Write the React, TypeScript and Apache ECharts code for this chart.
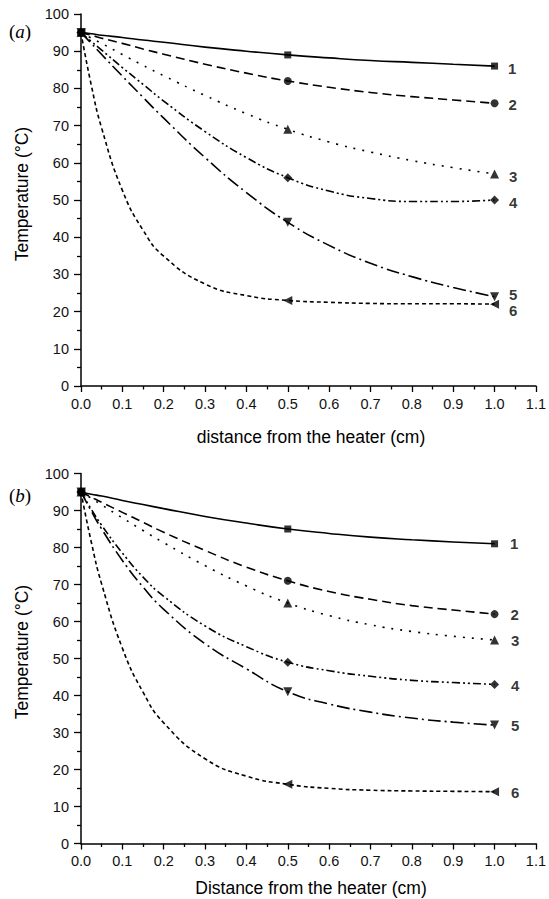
import React, { useEffect, useRef } from "react";
import * as echarts from "echarts";

const curveX = [0, 0.025, 0.05, 0.1, 0.15, 0.2, 0.3, 0.4, 0.5, 0.6, 0.7, 0.8, 0.9, 1.0];
// measured points (markers)
const markerX = [0, 0.5, 1.0];
const seriesNames = ["1", "2", "3", "4", "5", "6"];

// Panel (a) curves
const curveA1 = [95, 94.7, 94.3, 93.7, 93.0, 92.4, 91.1, 90.0, 89, 88.2, 87.5, 87.0, 86.5, 86];
const curveA2 = [95, 94.3, 93.5, 92.1, 90.6, 89.2, 86.5, 84.1, 82, 80.3, 78.9, 77.8, 76.9, 76];
const curveA3 = [95, 93.5, 92.1, 89.1, 86.2, 83.4, 78.1, 73.2, 69, 65.6, 62.9, 60.6, 58.7, 57];
const curveA4 = [95, 92.6, 90.3, 85.6, 81.1, 76.6, 68.4, 61.4, 56, 52.4, 50.4, 49.6, 49.6, 50];
const curveA5 = [95, 92.1, 89.1, 83.3, 77.6, 72.0, 61.4, 52.0, 44, 37.8, 33.0, 29.4, 26.5, 24];
const curveA6 = [95, 80.8, 69.3, 52.6, 41.9, 34.9, 27.4, 24.3, 23, 22.5, 22.2, 22.1, 22.1, 22];

// Panel (a) markers
const markA1 = [95, 89, 86];
const markA2 = [95, 82, 76];
const markA3 = [95, 69, 57];
const markA4 = [95, 56, 50];
const markA5 = [95, 44, 24];
const markA6 = [95, 23, 22];

// Panel (b) curves
const curveB1 = [95, 94.4, 93.9, 92.7, 91.6, 90.5, 88.4, 86.6, 85, 83.8, 82.8, 82.1, 81.5, 81];
const curveB2 = [95, 93.6, 92.2, 89.5, 86.8, 84.1, 79.2, 74.7, 71, 68.1, 66.0, 64.3, 63.1, 62];
const curveB3 = [95, 93.3, 91.5, 88.0, 84.6, 81.3, 75.1, 69.6, 65, 61.6, 59.1, 57.3, 56.0, 55];
const curveB4 = [95, 90.3, 86.0, 78.5, 72.0, 66.8, 58.8, 53.2, 49, 46.7, 45.2, 44.1, 43.5, 43];
const curveB5 = [95, 89.8, 85.0, 76.5, 69.3, 63.3, 54.0, 47.2, 41, 37.7, 35.5, 33.9, 32.8, 32];
const curveB6 = [95, 81.4, 70.1, 52.8, 40.9, 32.6, 22.9, 18.2, 16, 14.9, 14.4, 14.2, 14.1, 14];

// Panel (b) markers
const markB1 = [95, 85, 81];
const markB2 = [95, 71, 62];
const markB3 = [95, 65, 55];
const markB4 = [95, 49, 43];
const markB5 = [95, 41, 32];
const markB6 = [95, 16, 14];

const curvesA = [curveA1, curveA2, curveA3, curveA4, curveA5, curveA6];
const marksA = [markA1, markA2, markA3, markA4, markA5, markA6];
const curvesB = [curveB1, curveB2, curveB3, curveB4, curveB5, curveB6];
const marksB = [markB1, markB2, markB3, markB4, markB5, markB6];

const symbols = ["rect", "circle", "triangle", "diamond", "triangle", "triangle"];
const symbolRot = [0, 0, 0, 0, 180, 90];
const symbolSizes = [7, 8, 9, 9, 9, 9];
const dashes: any[] = ["solid", [9, 5], [2, 7], [8, 3, 2, 3, 2, 3], [13, 4, 2, 4], [4, 3]];
const labelOffA = [[0, 2], [0, 1], [0, 3], [0, 2], [0, -2], [0, 6]];
const labelOffB = [[0, 0], [0, 0], [0, 0], [0, 1], [0, 0], [0, 1]];

const FONT = "'Liberation Sans', Arial, Helvetica, sans-serif";

function buildSeries(curves: number[][], marks: number[][], gi: number, offs: number[][], dist: number) {
  const out: any[] = [];
  curves.forEach((c, i) => {
    out.push({
      type: "line",
      xAxisIndex: gi,
      yAxisIndex: gi,
      data: curveX.map((x, k) => [x, c[k]]),
      showSymbol: false,
      symbol: "none",
      smooth: 0.5,
      lineStyle: { color: "#000", width: 1.6, type: dashes[i] },
      z: 2,
    });
    out.push({
      type: "scatter",
      xAxisIndex: gi,
      yAxisIndex: gi,
      symbol: symbols[i],
      symbolRotate: symbolRot[i],
      symbolSize: symbolSizes[i],
      itemStyle: { color: "#000" },
      data: markerX.map((x, k) => {
        const item: any = { value: [x, marks[i][k]] };
        if (k === markerX.length - 1) {
          item.label = {
            show: true,
            position: "right",
            distance: dist,
            offset: offs[i],
            formatter: seriesNames[i],
            fontFamily: FONT,
            fontWeight: "bold",
            fontSize: 15,
            color: "#000",
          };
        }
        return item;
      }),
      z: 3,
    });
  });
  return out;
}

function xAxis(gi: number) {
  return {
    type: "value",
    gridIndex: gi,
    min: 0,
    max: 1.1,
    interval: 0.1,
    axisLine: { show: true, onZero: false, lineStyle: { color: "#000", width: 1.5 } },
    axisTick: { show: true, length: 6, lineStyle: { color: "#000", width: 1.3 } },
    minorTick: { show: true, splitNumber: 2, length: 3.5, lineStyle: { color: "#000", width: 1.3 } },
    splitLine: { show: false },
    axisLabel: {
      margin: 10,
      color: "#111",
      fontSize: 14.5,
      fontFamily: FONT,
      formatter: (v: number) => v.toFixed(1),
    },
  };
}

function yAxis(gi: number) {
  return {
    type: "value",
    gridIndex: gi,
    min: 0,
    max: 100,
    interval: 10,
    axisLine: { show: true, onZero: false, lineStyle: { color: "#000", width: 1.5 } },
    axisTick: { show: true, length: 7, lineStyle: { color: "#000", width: 1.3 } },
    minorTick: { show: true, splitNumber: 2, length: 4, lineStyle: { color: "#000", width: 1.3 } },
    splitLine: { show: false },
    axisLabel: { margin: 12, color: "#111", fontSize: 14.5, fontFamily: FONT },
  };
}

export default function App() {
  const ref = useRef<HTMLDivElement>(null);
  useEffect(() => {
    if (!ref.current) return;
    const chart = echarts.init(ref.current, undefined, { renderer: "svg" });
    const serif = "'Liberation Serif', 'Times New Roman', serif";
    const option: any = {
      animation: false,
      backgroundColor: "#fff",
      grid: [
        { left: 81, top: 14, width: 459.5, height: 372 },
        { left: 81, top: 473.5, width: 459.5, height: 370 },
      ],
      xAxis: [xAxis(0), xAxis(1)],
      yAxis: [yAxis(0), yAxis(1)],
      series: [
        ...buildSeries(curvesA, marksA, 0, labelOffA, 10),
        ...buildSeries(curvesB, marksB, 1, labelOffB, 12),
      ],
      graphic: [
        {
          type: "text",
          x: 9,
          y: 31,
          style: {
            text: "{p|(}{i|a}{p|)}",
            rich: {
              p: { font: "19px " + serif, fill: "#000" },
              i: { font: "italic 19px " + serif, fill: "#000" },
            },
            textVerticalAlign: "middle",
          },
        },
        {
          type: "text",
          x: 9,
          y: 495,
          style: {
            text: "{p|(}{i|b}{p|)}",
            rich: {
              p: { font: "19px " + serif, fill: "#000" },
              i: { font: "italic 19px " + serif, fill: "#000" },
            },
            textVerticalAlign: "middle",
          },
        },
        {
          type: "text",
          x: 311,
          y: 437,
          style: {
            text: "distance from the heater (cm)",
            font: "17.5px " + FONT,
            fill: "#000",
            textAlign: "center",
            textVerticalAlign: "middle",
          },
        },
        {
          type: "text",
          x: 311,
          y: 888,
          style: {
            text: "Distance from the heater (cm)",
            font: "17.5px " + FONT,
            fill: "#000",
            textAlign: "center",
            textVerticalAlign: "middle",
          },
        },
        {
          type: "text",
          x: 22,
          y: 194,
          rotation: Math.PI / 2,
          style: {
            text: "Temperature (°C)",
            font: "17.5px " + FONT,
            fill: "#000",
            textAlign: "center",
            textVerticalAlign: "middle",
          },
        },
        {
          type: "text",
          x: 22,
          y: 652,
          rotation: Math.PI / 2,
          style: {
            text: "Temperature (°C)",
            font: "17.5px " + FONT,
            fill: "#000",
            textAlign: "center",
            textVerticalAlign: "middle",
          },
        },
      ],
    };
    chart.setOption(option);
    return () => chart.dispose();
  }, []);
  return (
    <div
      ref={ref}
      style={{ position: "fixed", left: 0, top: 0, width: 549, height: 899, background: "#fff" }}
    />
  );
}
